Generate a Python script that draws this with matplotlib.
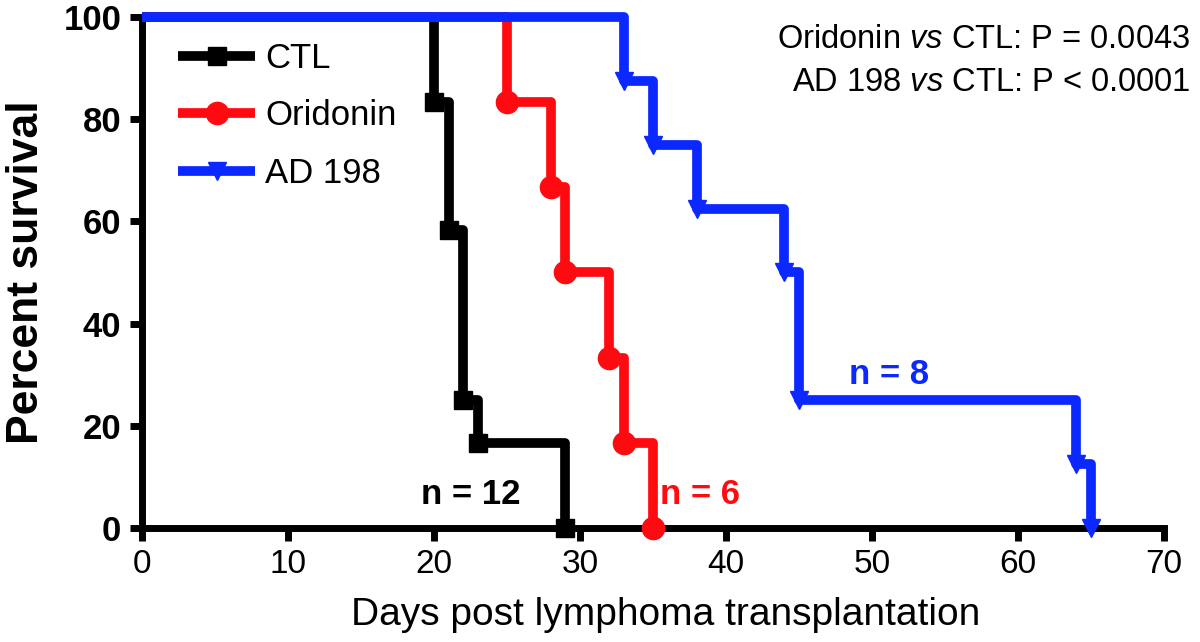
import matplotlib
matplotlib.use("Agg")
import matplotlib.pyplot as plt

plt.rcParams['font.family'] = ['Liberation Sans', 'DejaVu Sans']
plt.rcParams['mathtext.fontset'] = 'custom'
plt.rcParams['mathtext.rm'] = 'Liberation Sans'
plt.rcParams['mathtext.it'] = 'Liberation Sans:italic'

# Kaplan-Meier data (days, percent survival)
ctl_days = [0, 20, 21, 22, 23, 29]
ctl_surv = [100, 83.3, 58.3, 25.0, 16.7, 0]
ori_days = [0, 25, 28, 29, 32, 33, 35]
ori_surv = [100, 83.3, 66.7, 50.0, 33.3, 16.7, 0]
ad_days = [0, 33, 35, 38, 44, 45, 64, 65]
ad_surv = [100, 87.5, 75.0, 62.5, 50.0, 25.0, 12.5, 0]

labels = ['CTL', 'Oridonin', 'AD 198']
colors = ['#000000', '#ff0a10', '#0a28ff']
markers = ['s', 'o', 'v']
msizes = [13, 16, 13]
n_labels = ['n = 12', 'n = 6', 'n = 8']

fig = plt.figure(figsize=(12, 6.42), dpi=100)
ax = fig.add_axes([0.1183, 0.1776, 0.8517, 0.7959])

series = [(ctl_days, ctl_surv), (ori_days, ori_surv), (ad_days, ad_surv)]
for i, (d, s) in enumerate(series):
    ax.plot(d, s, drawstyle='steps-post', color=colors[i], lw=7,
            marker=markers[i], markersize=msizes[i], markevery=slice(1, None),
            label=labels[i], clip_on=False, zorder=3 + i,
            solid_joinstyle='round', solid_capstyle='butt')

ax.set_xlim(0, 70)
ax.set_ylim(0, 100)
ax.set_xticks(range(0, 71, 10))
ax.set_yticks(range(0, 101, 20))

for side in ['top', 'right']:
    ax.spines[side].set_visible(False)
for side in ['left', 'bottom']:
    ax.spines[side].set_linewidth(5)
ax.tick_params(axis='both', direction='out', length=9, width=5, labelsize=24, pad=6)
for lab in ax.get_yticklabels():
    lab.set_fontweight('bold')
    lab.set_fontsize(25)

ax.set_xlabel('Days post lymphoma transplantation', fontsize=28, labelpad=10)
ax.xaxis.set_label_coords(0.512, -0.135)
ax.set_ylabel('Percent survival', fontsize=32, fontweight='bold', labelpad=12)

leg = ax.legend(loc='upper left', bbox_to_anchor=(0.005, 1.012), frameon=False,
                fontsize=25, handlelength=2.2, handletextpad=0.3, labelspacing=0.7)

fig.text(0.992, 0.939, 'Oridonin $\\mathit{vs}$ CTL: P = 0.0043',
         ha='right', va='center', fontsize=23.5)
fig.text(0.992, 0.872, 'AD 198 $\\mathit{vs}$ CTL: P < 0.0001',
         ha='right', va='center', fontsize=23.5)

ax.text(22.5, 6.5, n_labels[0], color=colors[0], fontsize=25, fontweight='bold', ha='center', va='center')
ax.text(38.2, 6.5, n_labels[1], color=colors[1], fontsize=25, fontweight='bold', ha='center', va='center')
ax.text(51.2, 30.0, n_labels[2], color=colors[2], fontsize=25, fontweight='bold', ha='center', va='center')

fig.savefig('out.png', dpi=100)
